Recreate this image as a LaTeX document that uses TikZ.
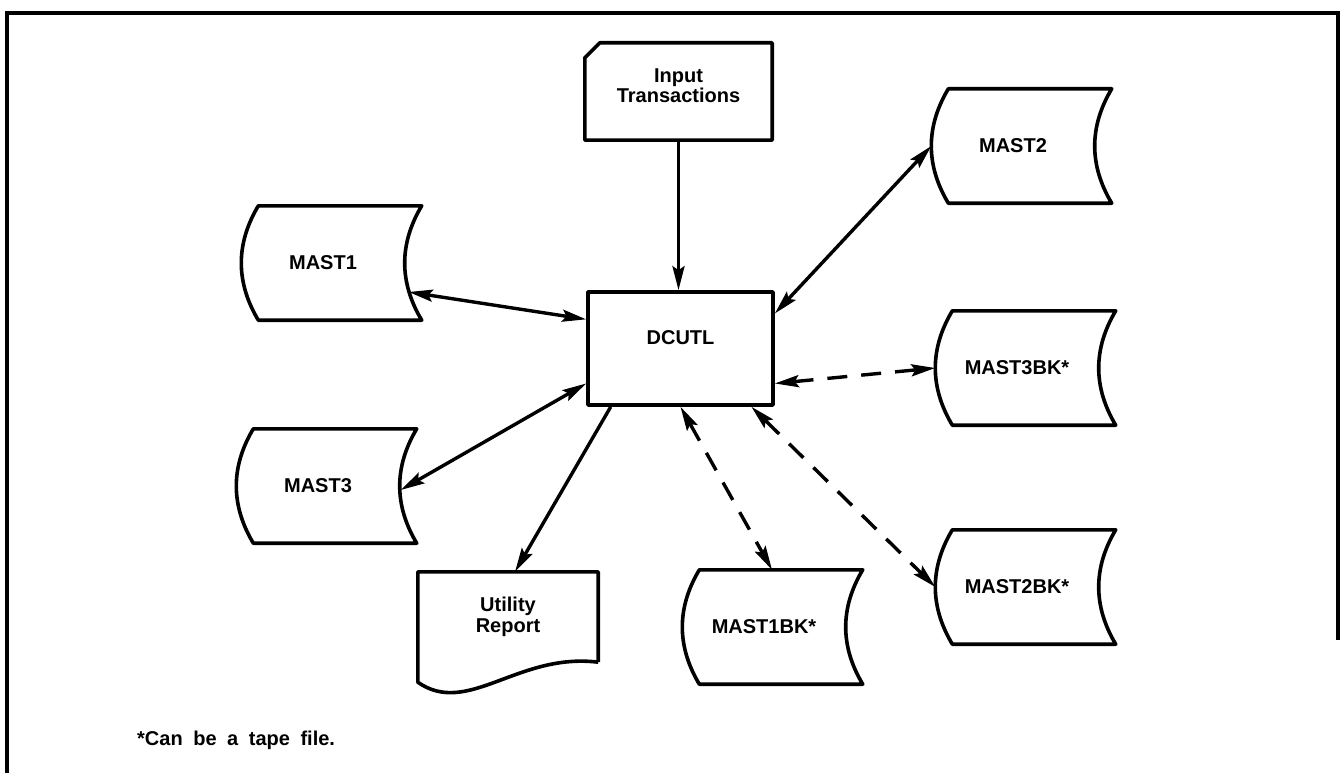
\documentclass[tikz,border=0pt]{standalone}
\usepackage{fontspec}
\setmainfont{Liberation Sans}
\newfontfamily\footfont[WordSpace=1.9]{Liberation Sans}
\usetikzlibrary{arrows.meta,calc}
\newcommand\diskshape[1]{%
  \draw[shp] ($(#1.north west)+(17,0)$) -- ($(#1.north east)+(17,0)$)
    .. controls ($(#1.north east)+(-5.67,38)$) and ($(#1.south east)+(-5.67,-38)$) .. ($(#1.south east)+(17,0)$)
    -- ($(#1.south west)+(17,0)$)
    .. controls ($(#1.south west)+(-5.67,-38)$) and ($(#1.north west)+(-5.67,38)$) .. cycle;}
\begin{document}
\begin{tikzpicture}[x=1pt,y=-1pt,
  lbl/.style={font=\fontsize{20}{21}\selectfont\bfseries, align=center},
  disk/.style={lbl, minimum width=163pt, minimum height=114pt, inner sep=0pt},
  plain/.style={lbl, inner sep=0pt},
  shp/.style={line width=3.6pt, line join=round},
  con/.style={line width=3.4pt},
  both/.style={con, {Stealth[length=24pt,width=12pt,inset=4pt]}-{Stealth[length=24pt,width=12pt,inset=4pt]}},
  one/.style={con, -{Stealth[length=24pt,width=12pt,inset=4pt]}},
  dsh/.style={dash pattern=on 20pt off 14pt}
]
\useasboundingbox (0,0) rectangle (1341,773);
% frame
\draw[line width=3.5pt] (7,773) -- (7,13) -- (1338,13) -- (1338,640);

% nodes
\node[plain, minimum width=187pt, minimum height=97pt] (inp) at (678.5,91.5) {\raisebox{3pt}[\height][\depth]{\begin{tabular}{@{}c@{}}Input\\[-1pt]Transactions\end{tabular}}};
\node[plain, draw, shp, minimum width=185pt, minimum height=113pt] (dcutl) at (680.5,348.5) {\raisebox{11pt}[\height][\depth]{DCUTL}};
\node[disk] (m1) at (323,263) {MAST1};
\node[disk] (m3) at (318,486) {MAST3};
\node[disk] (m2) at (1013,146) {MAST2};
\node[disk] (m3bk) at (1017,368) {MAST3BK*};
\node[disk] (m2bk) at (1017,587) {MAST2BK*};
\node[disk] (m1bk) at (764,627) {MAST1BK*};
\node[plain, minimum width=180pt, minimum height=90pt] (util) at (508,617) {Utility\\Report};
\node[anchor=west, inner sep=0pt, font={\footfont\bfseries\fontsize{20}{21}\selectfont}] (fn) at (137,740) {*Can be a tape file.};

% shapes
\draw[shp] ($(inp.north west)+(15,0)$) -- (inp.north east) -- (inp.south east) -- (inp.south west) -- ($(inp.north west)+(0,15)$) -- cycle;
\diskshape{m1}
\diskshape{m3}
\diskshape{m2}
\diskshape{m3bk}
\diskshape{m2bk}
\diskshape{m1bk}
\draw[shp] (util.south east) -- (util.north east) -- (util.north west) -- ($(util.south west)+(0,20)$)
  .. controls ($(util.south west)+(50,55)$) and ($(util.south west)+(100,-10)$) .. (util.south east);

% connectors
\draw[one] (inp.south) -- (inp.south |- dcutl.north);
\draw[both] ($(m1.east)+(4,29)$) -- ($(dcutl.north west)!0.25!(dcutl.south west)$);
\draw[both] ($(m3.east)+(1,4)$) -- ($(dcutl.north west)!0.8!(dcutl.south west)$);
\draw[both] (m2.west) -- ($(dcutl.north east)!0.2!(dcutl.south east)$);
\draw[both,dsh] ($(dcutl.north east)!0.8!(dcutl.south east)$) -- (m3bk.west);
\draw[one] ($(dcutl.south west)!0.13!(dcutl.south east)$) -- ($(util.north)+(7,0)$);
\draw[both,dsh] (dcutl.south) -- ($(m1bk.north)+(8,0)$);
\draw[both,dsh] ($(dcutl.south west)!0.876!(dcutl.south east)$) -- (m2bk.west);
\end{tikzpicture}
\end{document}
